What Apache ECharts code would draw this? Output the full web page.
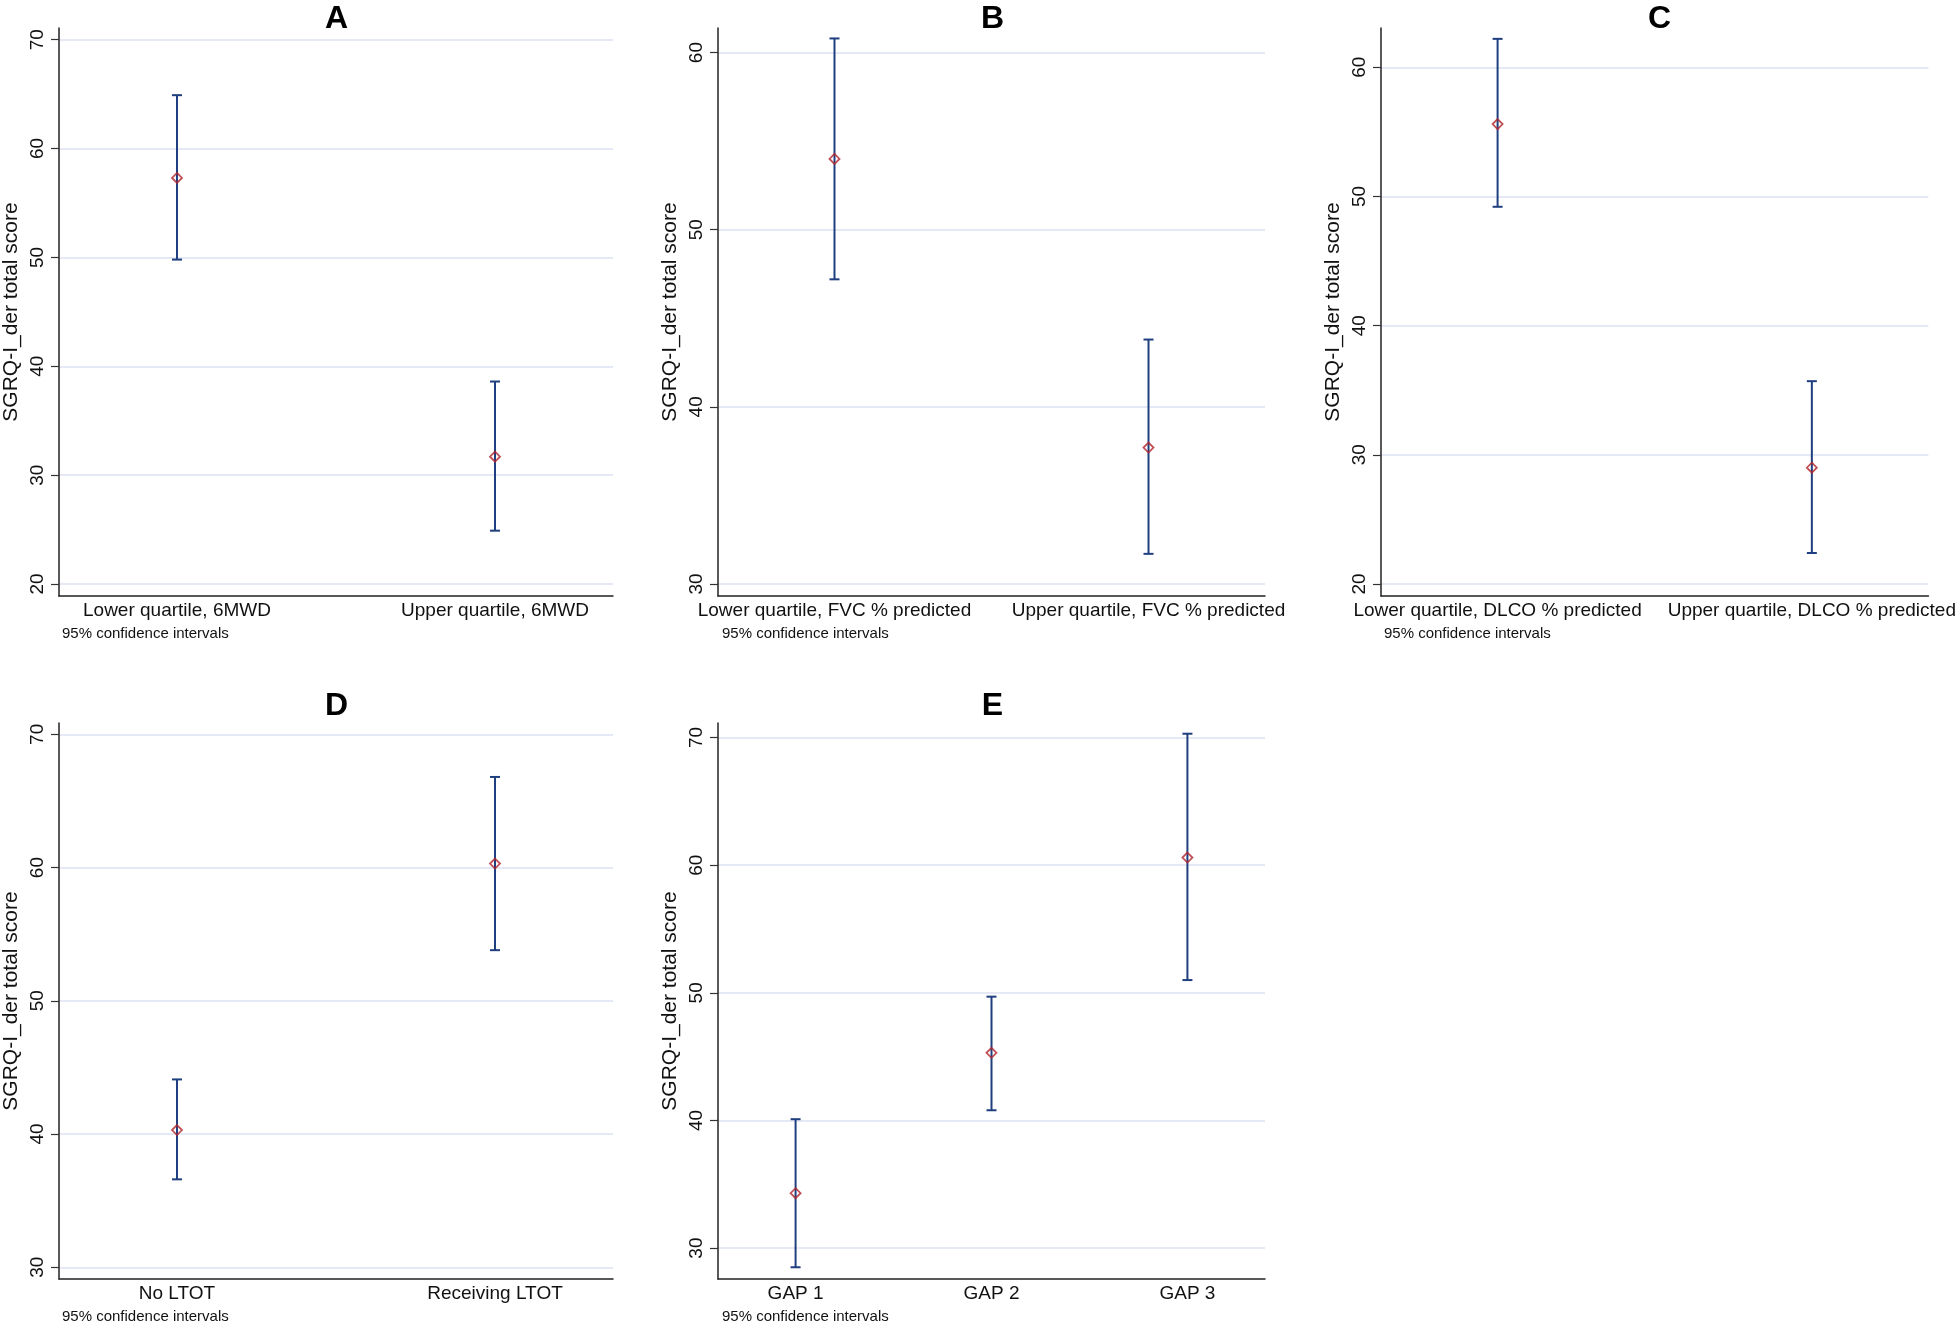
<!DOCTYPE html>
<html>
<head>
<meta charset="utf-8">
<script src="https://cdn.jsdelivr.net/npm/echarts@6/dist/echarts.min.js"></script>
<style>
html,body{margin:0;padding:0;background:#fff;}
#chart{width:1959px;height:1344px;}
</style>
</head>
<body>
<div id="chart"></div>
<script>
// ---------- data ----------
const catsA = ['Lower quartile, 6MWD', 'Upper quartile, 6MWD'];
const meanA = [57.3, 31.7];
const lowA  = [49.8, 24.9];
const highA = [64.9, 38.6];
const ticksA = [20, 30, 40, 50, 60, 70];

const catsB = ['Lower quartile, FVC % predicted', 'Upper quartile, FVC % predicted'];
const meanB = [54.0, 37.7];
const lowB  = [47.2, 31.7];
const highB = [60.8, 43.8];
const ticksB = [30, 40, 50, 60];

const catsC = ['Lower quartile, DLCO % predicted', 'Upper quartile, DLCO % predicted'];
const meanC = [55.6, 29.0];
const lowC  = [49.2, 22.4];
const highC = [62.2, 35.7];
const ticksC = [20, 30, 40, 50, 60];

const catsD = ['No LTOT', 'Receiving LTOT'];
const meanD = [40.3, 60.3];
const lowD  = [36.6, 53.8];
const highD = [44.1, 66.8];
const ticksD = [30, 40, 50, 60, 70];

const catsE = ['GAP 1', 'GAP 2', 'GAP 3'];
const meanE = [34.3, 45.3, 60.6];
const lowE  = [28.5, 40.8, 51.0];
const highE = [40.1, 49.7, 70.3];
const ticksE = [30, 40, 50, 60, 70];

const panelTitles = ['A', 'B', 'C', 'D', 'E'];
const yTitle = 'SGRQ-I_der total score';
const note = '95% confidence intervals';

// ---------- layout / style ----------
const FONT = "'Liberation Sans', Arial, sans-serif";
const LINE = '#1f3f7f';
const MARK = '#b0242b';
const GRIDC = '#dce2f2';

const panels = [
  {cats: catsA, mean: meanA, lo: lowA, hi: highA, ticks: ticksA, ymin: 18.9,  ymax: 71.07, titleY: 19,  grid: {left: 58,   top: 28,  width: 555, height: 568}},
  {cats: catsB, mean: meanB, lo: lowB, hi: highB, ticks: ticksB, ymin: 29.32, ymax: 61.39, titleY: 19,  grid: {left: 718,  top: 28,  width: 547, height: 568}},
  {cats: catsC, mean: meanC, lo: lowC, hi: highC, ticks: ticksC, ymin: 19.07, ymax: 63.04, titleY: 19,  grid: {left: 1381, top: 28,  width: 555, height: 568}},
  {cats: catsD, mean: meanD, lo: lowD, hi: highD, ticks: ticksD, ymin: 29.12, ymax: 70.85, titleY: 706, grid: {left: 58,   top: 723, width: 555, height: 556}},
  {cats: catsE, mean: meanE, lo: lowE, hi: highE, ticks: ticksE, ymin: 27.58, ymax: 71.14, titleY: 706, grid: {left: 718,  top: 723, width: 547, height: 556}}
];

const grids = [], xAxes = [], yAxes = [], series = [], gfx = [];

panels.forEach((p, i) => {
  const n = p.cats.length;
  const pad = n === 2 ? 0.371 : 0.396;
  grids.push(Object.assign({containLabel: false}, p.grid));
  const xs = p.cats.map((c, k) => k + 1);
  xAxes.push({
    gridIndex: i, type: 'value', min: 1 - pad, max: n + pad,
    axisLine: {show: true, onZero: false, lineStyle: {color: '#222', width: 1.5}},
    axisTick: {show: false},
    splitLine: {show: false},
    axisLabel: {
      customValues: xs, margin: 5, color: '#111', fontSize: 19, fontFamily: FONT,
      formatter: v => p.cats[Math.round(v) - 1] || ''
    }
  });
  yAxes.push({
    gridIndex: i, type: 'value', min: p.ymin, max: p.ymax,
    name: yTitle, nameLocation: 'middle', nameRotate: 90, nameGap: 37,
    nameTextStyle: {fontSize: 21, fontFamily: FONT, color: '#111'},
    axisLine: {show: true, onZero: false, lineStyle: {color: '#222', width: 1.5}},
    axisTick: {show: true, customValues: p.ticks, length: 8, lineStyle: {color: '#333', width: 1.2}},
    splitLine: {show: true, lineStyle: {color: GRIDC, width: 1.5}},
    axisLabel: {customValues: p.ticks, rotate: 90, margin: 12, fontSize: 19, fontFamily: FONT, color: '#111'}
  });
  const ciData = xs.map((x, k) => [x, p.lo[k], p.hi[k]]);
  series.push({
    type: 'custom', xAxisIndex: i, yAxisIndex: i, data: ciData, z: 2,
    renderItem: (params, api) => {
      const x = api.value(0);
      const lo = api.coord([x, api.value(1)]);
      const hi = api.coord([x, api.value(2)]);
      const cw = 5;
      const st = {stroke: LINE, lineWidth: 2};
      return {type: 'group', children: [
        {type: 'line', shape: {x1: lo[0], y1: lo[1], x2: hi[0], y2: hi[1]}, style: st},
        {type: 'line', shape: {x1: lo[0] - cw, y1: lo[1], x2: lo[0] + cw, y2: lo[1]}, style: st},
        {type: 'line', shape: {x1: hi[0] - cw, y1: hi[1], x2: hi[0] + cw, y2: hi[1]}, style: st}
      ]};
    }
  });
  series.push({
    type: 'scatter', xAxisIndex: i, yAxisIndex: i, z: 3,
    data: xs.map((x, k) => [x, p.mean[k]]),
    symbol: 'diamond', symbolSize: 10,
    itemStyle: {color: 'rgba(0,0,0,0)', borderColor: MARK, borderWidth: 1.8},
    emphasis: {disabled: true}
  });
  const g = p.grid;
  gfx.push({
    type: 'text', x: g.left + g.width / 2 + 1, y: p.titleY,
    style: {text: panelTitles[i], font: 'bold 32px ' + FONT, fill: '#000', align: 'center', verticalAlign: 'middle'}
  });
  gfx.push({
    type: 'text', x: g.left + (i === 2 ? 3 : 4), y: g.top + g.height + 38,
    style: {text: note, font: '15px ' + FONT, fill: '#111', align: 'left', verticalAlign: 'middle'}
  });
});

const chart = echarts.init(document.getElementById('chart'), null, {renderer: 'canvas'});
chart.setOption({
  animation: false,
  backgroundColor: '#fff',
  grid: grids, xAxis: xAxes, yAxis: yAxes, series: series,
  graphic: gfx
});
</script>
</body>
</html>
